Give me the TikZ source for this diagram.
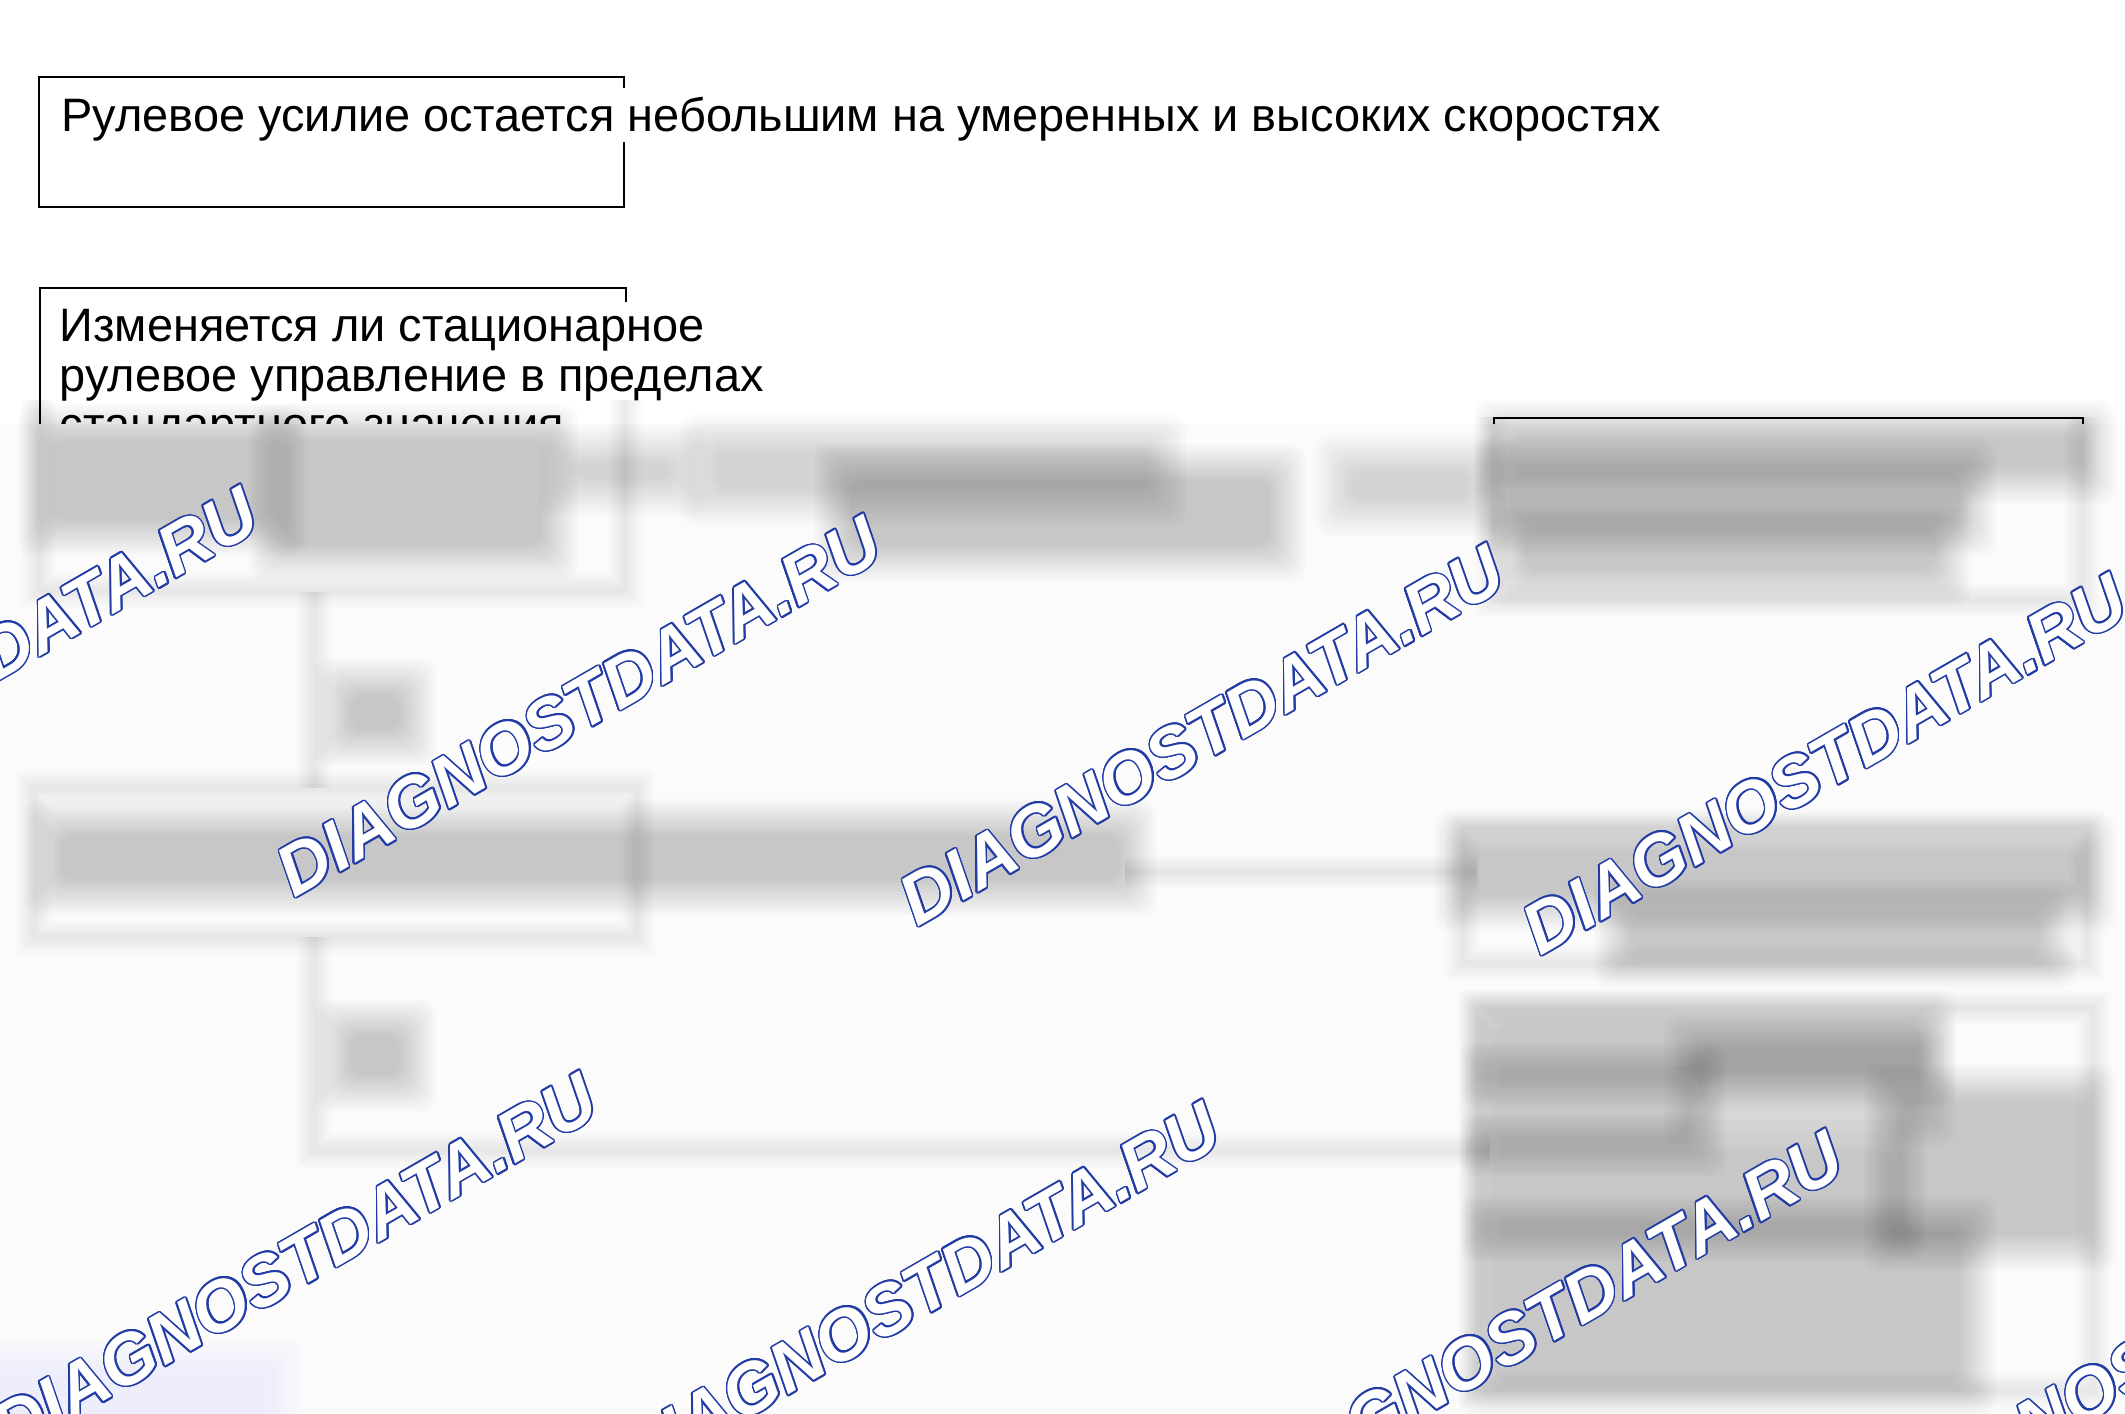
\documentclass[tikz,border=0pt]{standalone}
\usepackage{fontspec}
\setmainfont{Liberation Sans}
\usepackage{contour}
\contourlength{0.45pt}
\definecolor{wmblue}{RGB}{35,60,165}
\definecolor{hazebg}{RGB}{251,251,251}
\newcommand{\blob}[5][0.016]{%
  \foreach \s in {0,3,...,36}{%
    \fill[black,opacity=#1,rounded corners=1.5mm] ({#2-\s},{#3-\s}) rectangle ({#4+\s},{#5+\s});}}
\newcommand{\blurline}[1]{%
  \foreach \w in {1,2,...,10}{\draw[black,opacity=0.007,line width=\w pt] #1;}}
\tikzset{
  frame/.style={draw,line width=0.6pt,inner sep=0pt,anchor=north west},
  msg/.style={fill=white,inner sep=0pt,font=\fontsize{13.35}{14.1}\selectfont},
  watermark/.style={inner sep=0pt,rotate=30,text=white,font=\fontsize{20.2}{21}\selectfont\bfseries\itshape}
}
\begin{document}
\begin{tikzpicture}[x=0.1mm,y=-0.1mm]
  \useasboundingbox (0,0) rectangle (2125,1414);
  \fill[white] (0,0) rectangle (2125,1414);

  % boxes above the haze
  \node[frame,minimum width=58.5mm,minimum height=13mm] (symptom) at (38,76) {};
  \node[msg,anchor=base west,text height=12.5pt,text depth=2.85pt] (symptomtext) at (61,132)
    {Рулевое усилие остается небольшим на умеренных и высоких скоростях};
  \node[frame,minimum width=58.6mm,minimum height=30.5mm] (check) at (39,287) {};
  \node[msg,anchor=base west,align=left,inner ysep=2.3pt] (checktext) at (59,441)
    {Изменяется ли стационарное\\рулевое управление в пределах\\стандартного значения};
  \node[frame,minimum width=58.9mm,minimum height=18.3mm] (result) at (1493,417) {};

  % the haze
  \fill[hazebg] (0,424) rectangle (2125,1414);
  \blurline{(39,400) -- (39,590) -- (625,590) -- (625,400)}
  \blurline{(314,592) -- (314,788)}
  \blurline{(34,788) rectangle (637,937)}
  \blurline{(1125,872) -- (1477,872)}
  \blurline{(1463,827) rectangle (2087,963)}
  \blurline{(314,937) -- (314,1150) -- (1490,1150)}
  \blurline{(1477,1008) rectangle (2093,1390)}
  \blurline{(1493,417) -- (1493,600) -- (2082,600) -- (2082,417)}

  \blob{54}{440}{271}{520}
  \blob{285}{440}{542}{545}
  \blob[0.01]{575}{462}{672}{480}
  \blob[0.012]{715}{450}{1150}{490}
  \blob{850}{480}{1270}{545}
  \blob[0.01]{1350}{470}{1470}{500}
  \blob{1510}{436}{2080}{468}
  \blob{1510}{475}{1960}{520}
  \blob{1525}{528}{1935}{570}
  \blob{350}{695}{400}{730}
  \blob{60}{835}{1120}{880}
  \blob{1470}{850}{2080}{895}
  \blob{1630}{915}{2040}{952}
  \blob{350}{1035}{400}{1075}
  \blob{1495}{1025}{1920}{1070}
  \blob[0.012]{1700}{1050}{1920}{1110}
  \blob{1495}{1078}{1690}{1140}
  \blob{1900}{1100}{2080}{1235}
  \blob{1495}{1150}{1890}{1225}
  \blob[0.014]{1495}{1232}{1960}{1380}
  \foreach \s in {0,5,...,30}
    \fill[blue!50,opacity=0.012] ({0-\s},{1370-\s}) rectangle ({270+\s},{1414+\s});

  % watermarks
  \foreach \cx/\cy [count=\i] in {-44/678,579/707,1202/736,1825/765,295/1264,918/1293,1541/1322,2164/1351}
    \node[watermark] (wm\i) at (\cx,\cy) {\contour[24]{wmblue}{DIAGNOSTDATA.RU}};
\end{tikzpicture}
\end{document}
